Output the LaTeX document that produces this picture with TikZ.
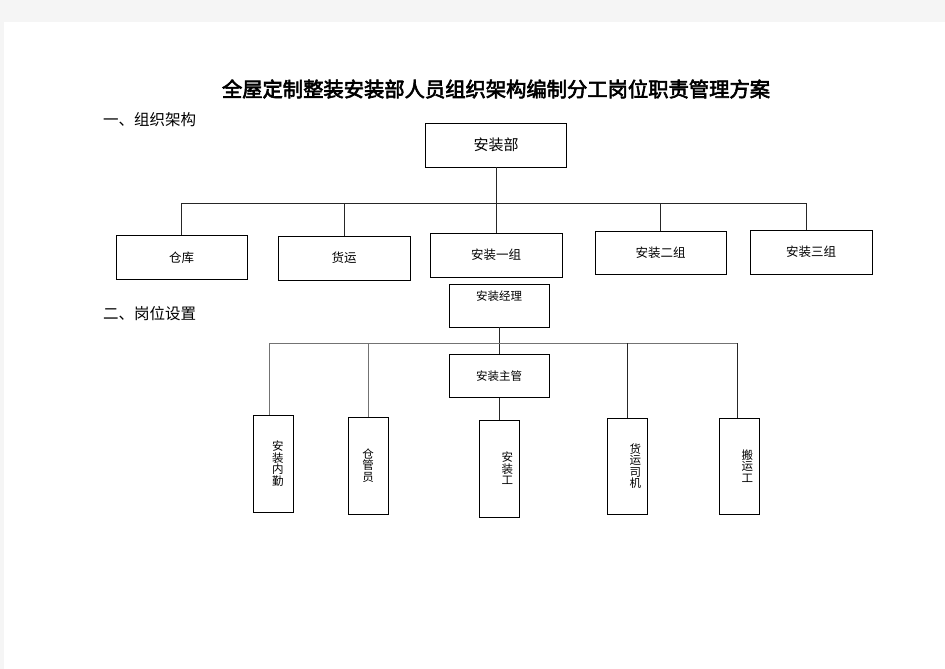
\documentclass[tikz,border=0pt]{standalone}
\usepackage{fontspec}
\setmainfont{Liberation Sans}
\newfontfamily\cjk[AutoFakeBold=3]{Noto Sans CJK SC}
\usepackage{tikz}
\usetikzlibrary{positioning}
\tikzstyle{deptbox} = [rectangle, minimum width=141pt, minimum height=44pt, inner sep=0pt, text centered, draw=black, line width=0.8pt, font=\cjk\fontsize{15}{18}\selectfont]
\tikzstyle{teambox} = [rectangle, minimum width=131pt, minimum height=44pt, inner sep=0pt, text centered, draw=black, line width=0.8pt, font=\cjk\fontsize{12.5}{15}\selectfont]
\tikzstyle{rolebox} = [rectangle, minimum width=100pt, minimum height=43pt, inner sep=0pt, text centered, draw=black, line width=0.8pt, font=\cjk\fontsize{11.5}{14}\selectfont]
\tikzstyle{postbox} = [rectangle, minimum width=40pt, minimum height=97pt, inner sep=0pt, align=center, draw=black, line width=0.8pt, font=\cjk\fontsize{11.5}{11.5}\selectfont]
\tikzstyle{textright} = [text width=28pt, align=right]
\tikzstyle{link} = [draw=black!85, line width=0.9pt]

\begin{document}
\begin{tikzpicture}[x=1pt, y=-1pt]

% Page
\fill[gray!8] (0,0) rectangle (945,669);
\fill[white] (4,22) rectangle (945,669);
\useasboundingbox (0,0) rectangle (945,669);

% Headings
\node (title) at (496,89) {\cjk\bfseries\fontsize{20.3}{24}\selectfont 全屋定制整装安装部人员组织架构编制分工岗位职责管理方案};
\node (sec1) [anchor=west, inner sep=0pt] at (103,120) {\cjk\fontsize{15.5}{18}\selectfont 一、组织架构};
\node (sec2) [anchor=west, inner sep=0pt] at (103,314) {\cjk\fontsize{15.5}{18}\selectfont 二、岗位设置};

% Department
\node (bu) [deptbox] at (496,145) {安装部};

% Teams
\node (cangku) [teambox] at (181.5,257.5) {仓库};
\node (huoyun) [teambox, minimum width=132pt] at (344,258) {货运};
\node (zu1) [teambox, minimum width=132pt] at (496,255) {安装一组};
\node (zu2) [teambox, minimum height=43pt] at (660.5,252.5) {安装二组};
\node (zu3) [teambox, minimum width=122pt] at (811,252) {安装三组};

% Roles
\node (jingli) [rolebox, text depth=20pt] at (499,305.5) {安装经理};
\node (zhuguan) [rolebox, below=27pt of jingli] {安装主管};

% Posts
\node (neiqin) [postbox, textright, text width=21pt] at (273,463.5) {安\\装\\内\\勤};
\node (cangguan) [postbox] at (368,465.5) {仓\\管\\员};
\node (gong) [postbox, textright] at (499,468.5) {安\\装\\工};
\node (siji) [postbox, textright, minimum height=96pt] at (627,466) {货\\运\\司\\机};
\node (banyun) [postbox, textright, minimum height=96pt] at (739,466) {搬\\运\\工};

% Lines
\coordinate (bus1) at (182,203);
\coordinate (bus2) at (269,343);
\draw [link] (bu.south) -- (zu1.north);
\draw [link] (cangku.north) -- (cangku.north |- bus1) -- ([xshift=-5pt]zu3.north |- bus1) -- ([xshift=-5pt]zu3.north);
\draw [link] (huoyun.north) -- (huoyun.north |- bus1);
\draw [link] (zu2.north) -- (zu2.north |- bus1);
\draw [link] (jingli.south) -- (zhuguan.north);
\draw [link] (zhuguan.south) -- (gong.north);
\draw [link, draw=black!55] ([xshift=-4pt]neiqin.north) -- ([xshift=-4pt]neiqin.north |- bus2) -- ([xshift=-2pt]banyun.north |- bus2);
\draw [link] ([xshift=-2pt]banyun.north |- bus2) -- ([xshift=-2pt]banyun.north);
\draw [link, draw=black!55] (cangguan.north) -- (cangguan.north |- bus2);
\draw [link] (siji.north) -- (siji.north |- bus2);

\end{tikzpicture}
\end{document}
